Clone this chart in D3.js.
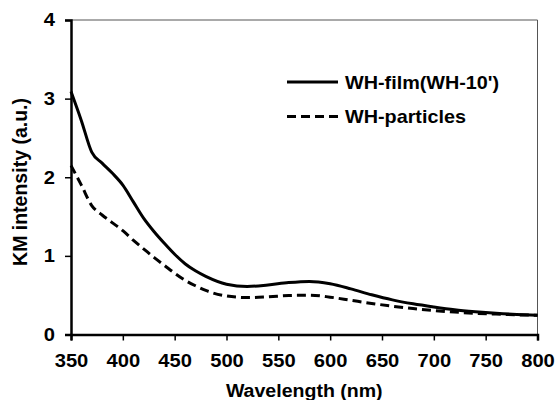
<!DOCTYPE html>
<html>
<head>
<meta charset="utf-8">
<script src="https://cdn.jsdelivr.net/npm/d3@7"></script>
<style>
  body { margin: 0; background: #fff; }
  text { font-family: Arial, "Liberation Sans", sans-serif; font-weight: bold; fill: #000; }
</style>
</head>
<body>
<div id="chart"></div>
<script>
// wavelength grid (nm)
const wavelengths = [350, 360, 370, 380, 390, 400, 410, 420, 430, 440, 450, 460, 470, 480,
    500, 520, 540, 560, 580, 600, 620, 640, 660, 680, 700, 720, 740, 760, 780, 800]

// WH-film(WH-10')
const filmValues = [3.09, 2.72, 2.32, 2.18, 2.05, 1.9, 1.69, 1.48, 1.31, 1.16, 1.02, 0.9, 0.81, 0.74,
    0.64, 0.61, 0.63, 0.66, 0.675, 0.645, 0.58, 0.505, 0.44, 0.39, 0.35, 0.315, 0.29, 0.27, 0.255, 0.245]

// WH-particles
const particleValues = [2.15, 1.9, 1.64, 1.52, 1.42, 1.32, 1.2, 1.09, 0.98, 0.88, 0.78, 0.69, 0.62, 0.56,
    0.49, 0.47, 0.48, 0.495, 0.5, 0.475, 0.435, 0.395, 0.36, 0.33, 0.305, 0.285, 0.27, 0.26, 0.25, 0.245]

const seriesNames = ["WH-film(WH-10')", "WH-particles"]
const xTicks = [350, 400, 450, 500, 550, 600, 650, 700, 750, 800]
const yTicks = [0, 1, 2, 3, 4]

const width = 555, height = 400
const margin = { top: 20, right: 17.5, bottom: 65.5, left: 71 }
const stretch = 1.12   // the original text is a bit wide

let svg = d3.select("#chart").append("svg")
    .attr("width", width)
    .attr("height", height)

let x = d3.scaleLinear().domain([350, 800]).range([margin.left, width - margin.right])
let y = d3.scaleLinear().domain([0, 4]).range([height - margin.bottom, margin.top])

// plot frame (top + right are thin grey)
svg.append("path")
    .attr("d", "M" + x(350) + "," + y(4) + "H" + x(800) + "V" + y(0))
    .attr("fill", "none")
    .attr("stroke", "#555")
    .attr("stroke-width", 1)

// x axis
let xAxis = svg.append("g")
    .attr("transform", "translate(0," + y(0) + ")")
    .call(d3.axisBottom(x).tickValues(xTicks).tickSize(6).tickPadding(14))
xAxis.select(".domain").attr("stroke-width", 2.5)
xAxis.selectAll(".tick line").attr("stroke-width", 1.5)
xAxis.selectAll(".tick text")
    .attr("font-size", 18)
    .attr("transform", "scale(" + stretch + ",1)")

// y axis
let yAxis = svg.append("g")
    .attr("transform", "translate(" + x(350) + ",0)")
    .call(d3.axisLeft(y).tickValues(yTicks).tickFormat(d3.format("d")).tickSize(6).tickPadding(10))
yAxis.select(".domain").attr("stroke-width", 2.5)
yAxis.selectAll(".tick line").attr("stroke-width", 1.5)
yAxis.selectAll(".tick text")
    .attr("font-size", 18)
    .attr("x", 0)
    .attr("transform", "translate(-16,0) scale(" + stretch + ",1)")

// axis titles
svg.append("text")
    .attr("transform", "translate(" + ((x(350) + x(800)) / 2) + ",397) scale(1.03,1)")
    .attr("text-anchor", "middle")
    .attr("font-size", 19)
    .text("Wavelength (nm)")

svg.append("text")
    .attr("transform", "translate(27,182) rotate(-90)")
    .attr("text-anchor", "middle")
    .attr("font-size", 19.5)
    .text("KM intensity (a.u.)")

// curves
let line = d3.line()
    .x(function (d) { return x(d[0]) })
    .y(function (d) { return y(d[1]) })
    .curve(d3.curveMonotoneX)

let dashes = [null, "9,5"]
let allSeries = [filmValues, particleValues]

allSeries.forEach(function (vals, i) {
    svg.append("path")
        .datum(wavelengths.map(function (w, j) { return [w, vals[j]] }))
        .attr("d", line)
        .attr("fill", "none")
        .attr("stroke", "#000")
        .attr("stroke-width", 3)
        .attr("stroke-dasharray", dashes[i])
})

// legend
let legend = svg.selectAll(".legend")
    .data(seriesNames)
    .enter()
    .append("g")
    .attr("class", "legend")
    .attr("transform", function (d, i) { return "translate(287," + (82 + i * 34.5) + ")" })

legend.append("line")
    .attr("x1", 0).attr("x2", 51)
    .attr("y1", 0).attr("y2", 0)
    .attr("stroke", "#000")
    .attr("stroke-width", 3)
    .attr("stroke-dasharray", function (d, i) { return dashes[i] })

legend.append("text")
    .attr("transform", "translate(58,6.5) scale(1.1,1)")
    .attr("font-size", 18)
    .text(function (d) { return d })
</script>
</body>
</html>
